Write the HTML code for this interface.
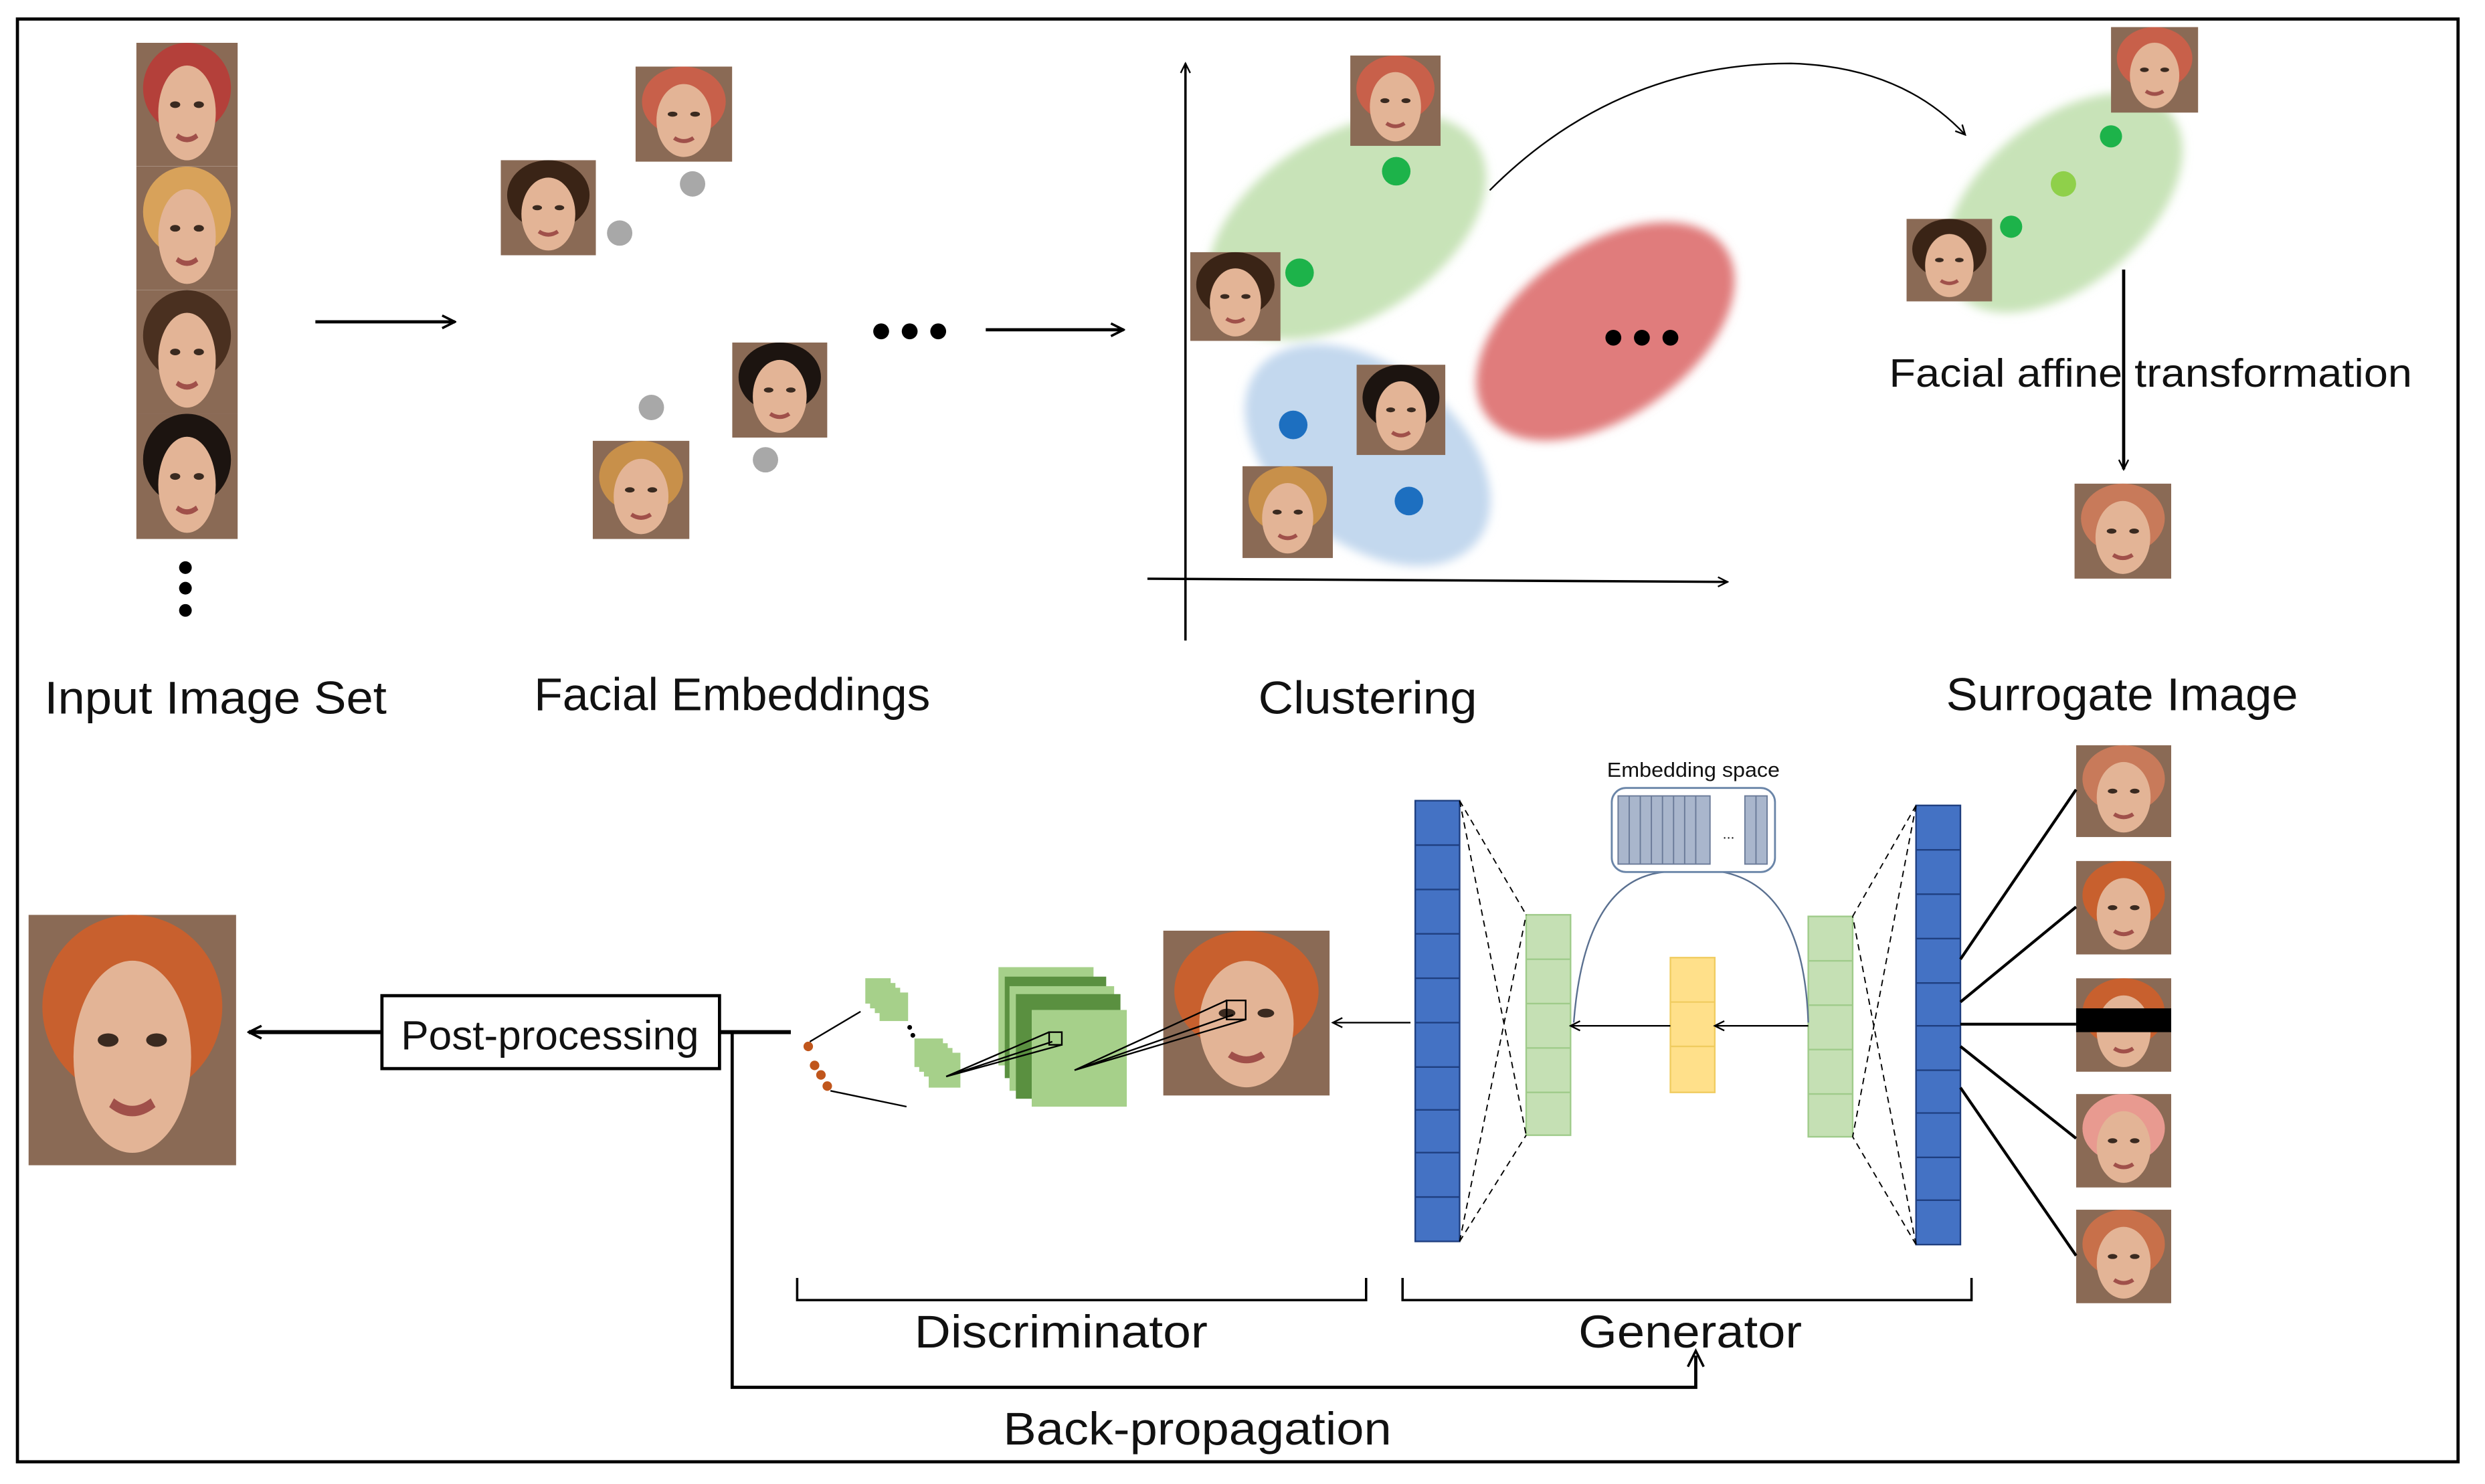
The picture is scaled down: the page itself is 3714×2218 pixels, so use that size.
<!DOCTYPE html>
<html><head><meta charset="utf-8"><style>
html,body{margin:0;padding:0;background:#fff;}
svg{display:block;}
text{font-family:"Liberation Sans",sans-serif;fill:#111;}
</style></head><body>
<svg width="3714" height="2218" viewBox="0 0 1568 936" preserveAspectRatio="none" xmlns="http://www.w3.org/2000/svg">
<defs>
<marker id="ah" markerWidth="10" markerHeight="10" refX="9" refY="5" orient="auto" markerUnits="userSpaceOnUse"><path d="M1,1 L9,5 L1,9" fill="none" stroke="#000" stroke-width="1.5"/></marker>
<marker id="ahs" markerWidth="8" markerHeight="8" refX="7" refY="4" orient="auto" markerUnits="userSpaceOnUse"><path d="M1,1 L7,4 L1,7" fill="none" stroke="#000" stroke-width="1"/></marker>
<filter id="bl"><feGaussianBlur stdDeviation="3"/></filter>
<symbol id="face" viewBox="0 0 60 60" preserveAspectRatio="none">
<rect width="60" height="60" fill="#8a6a55"/>
<ellipse cx="30" cy="22" rx="26" ry="22" fill="currentColor"/>
<ellipse cx="30" cy="34" rx="17" ry="23" fill="#e3b496"/>
<ellipse cx="23" cy="30" rx="3" ry="1.6" fill="#3a2a20"/>
<ellipse cx="37" cy="30" rx="3" ry="1.6" fill="#3a2a20"/>
<path d="M24,45 Q30,49 36,45" stroke="#a0504a" stroke-width="2.5" fill="none"/>
</symbol>
</defs>
<rect x="11" y="12" width="1540" height="910" fill="none" stroke="#000" stroke-width="2"/>

<use href="#face" x="86" y="27" width="64" height="78" color="#b4403a"/>
<use href="#face" x="86" y="105" width="64" height="78" color="#d8a25a"/>
<use href="#face" x="86" y="183" width="64" height="78" color="#4a3020"/>
<use href="#face" x="86" y="261" width="64" height="79" color="#1c1410"/>
<circle cx="117" cy="358" r="4"/><circle cx="117" cy="371" r="4"/><circle cx="117" cy="385" r="4"/>
<line x1="199" y1="203" x2="287" y2="203" stroke="#000" stroke-width="2" marker-end="url(#ah)"/>

<use href="#face" x="401" y="42" width="61" height="60" color="#c8604a"/>
<use href="#face" x="316" y="101" width="60" height="60" color="#3a2416"/>
<use href="#face" x="462" y="216" width="60" height="60" color="#1c1410"/>
<use href="#face" x="374" y="278" width="61" height="62" color="#c8904a"/>
<g fill="#a8a8a8"><circle cx="437" cy="116" r="8"/><circle cx="391" cy="147" r="8"/><circle cx="411" cy="257" r="8"/><circle cx="483" cy="290" r="8"/></g>
<circle cx="556" cy="209" r="5"/><circle cx="574" cy="209" r="5"/><circle cx="592" cy="209" r="5"/>
<line x1="622" y1="208" x2="709" y2="208" stroke="#000" stroke-width="2" marker-end="url(#ah)"/>

<g filter="url(#bl)">
<ellipse cx="850" cy="143" rx="97" ry="58" transform="rotate(-32 850 143)" fill="#c8e3b8"/>
<ellipse cx="1013" cy="209" rx="92" ry="54" transform="rotate(-35 1013 209)" fill="#e07b7b"/>
<ellipse cx="863" cy="287" rx="88" ry="56" transform="rotate(38 863 287)" fill="#c3d8ee"/>
<ellipse cx="1302" cy="128" rx="88" ry="52" transform="rotate(-40 1302 128)" fill="#c8e3b8"/>
</g>
<line x1="748" y1="404" x2="748" y2="40" stroke="#000" stroke-width="1.5" marker-end="url(#ahs)"/>
<line x1="724" y1="365" x2="1090" y2="367" stroke="#000" stroke-width="1.5" marker-end="url(#ahs)"/>
<use href="#face" x="852" y="35" width="57" height="57" color="#c8604a"/>
<use href="#face" x="751" y="159" width="57" height="56" color="#3a2416"/>
<use href="#face" x="856" y="230" width="56" height="57" color="#1c1410"/>
<use href="#face" x="784" y="294" width="57" height="58" color="#c8904a"/>
<circle cx="881" cy="108" r="9" fill="#1db34a"/><circle cx="820" cy="172" r="9" fill="#1db34a"/>
<circle cx="816" cy="268" r="9" fill="#1d6fc0"/><circle cx="889" cy="316" r="9" fill="#1d6fc0"/>
<circle cx="1018" cy="213" r="5"/><circle cx="1036" cy="213" r="5"/><circle cx="1054" cy="213" r="5"/>
<path d="M940,120 Q1020,40 1130,40 Q1200,42 1240,85" fill="none" stroke="#000" stroke-width="1" marker-end="url(#ahs)"/>

<use href="#face" x="1332" y="17" width="55" height="54" color="#c8604a"/>
<use href="#face" x="1203" y="138" width="54" height="52" color="#3a2416"/>
<circle cx="1332" cy="86" r="7" fill="#1db34a"/><circle cx="1302" cy="116" r="8" fill="#8fd04a"/><circle cx="1269" cy="143" r="7" fill="#1db34a"/>
<line x1="1340" y1="170" x2="1340" y2="296" stroke="#000" stroke-width="2" marker-end="url(#ahs)"/>
<text x="1192" y="244" font-size="25" textLength="330" lengthAdjust="spacingAndGlyphs">Facial affine transformation</text>
<use href="#face" x="1309" y="305" width="61" height="60" color="#c87a5a"/>

<text x="28" y="450" font-size="29" textLength="216" lengthAdjust="spacingAndGlyphs">Input Image Set</text>
<text x="337" y="448" font-size="29" textLength="250" lengthAdjust="spacingAndGlyphs">Facial Embeddings</text>
<text x="794" y="450" font-size="29" textLength="138" lengthAdjust="spacingAndGlyphs">Clustering</text>
<text x="1228" y="448" font-size="29" textLength="222" lengthAdjust="spacingAndGlyphs">Surrogate Image</text>

<use href="#face" x="18" y="577" width="131" height="158" color="#c8602e"/>
<line x1="240" y1="651" x2="157" y2="651" stroke="#000" stroke-width="2.5" marker-end="url(#ah)"/>
<rect x="241" y="628" width="213" height="46" fill="#fff" stroke="#000" stroke-width="2"/>
<text x="253" y="662" font-size="26" textLength="188" lengthAdjust="spacingAndGlyphs">Post-processing</text>
<line x1="454" y1="651" x2="499" y2="651" stroke="#000" stroke-width="2.5"/>
<polyline points="462,651 462,875 1070,875 1070,855" fill="none" stroke="#000" stroke-width="2"/>
<path d="M1065,862 L1070,852 L1075,862" fill="none" stroke="#000" stroke-width="1.5"/>

<g fill="#c0561c"><circle cx="510" cy="660" r="3"/><circle cx="514" cy="672" r="3"/><circle cx="518" cy="678" r="3"/><circle cx="522" cy="685" r="3"/></g>
<line x1="511" y1="657" x2="543" y2="638" stroke="#000" stroke-width="1"/>
<line x1="524" y1="688" x2="572" y2="698" stroke="#000" stroke-width="1"/>
<g fill="#a6d08a"><rect x="546" y="617" width="16" height="16"/><rect x="549" y="620" width="16" height="16"/><rect x="552" y="623" width="16" height="16"/><rect x="555" y="626" width="18" height="18"/>
<rect x="577" y="655" width="18" height="18"/><rect x="580" y="658" width="18" height="18"/><rect x="583" y="661" width="18" height="18"/><rect x="586" y="664" width="20" height="22"/></g>
<circle cx="574" cy="648" r="1.5"/><circle cx="576" cy="653" r="1.5"/>
<rect x="630" y="610" width="60" height="62" fill="#a6d08a"/>
<rect x="634" y="616" width="64" height="64" fill="#5a9040"/>
<rect x="637" y="622" width="66" height="66" fill="#a6d08a"/>
<rect x="641" y="627" width="66" height="66" fill="#5a9040"/>
<rect x="651" y="637" width="60" height="61" fill="#a6d08a"/>
<rect x="662" y="651" width="8" height="8" fill="none" stroke="#000" stroke-width="1"/>
<path d="M597,679 L662,651 M597,679 L670,659 M597,679 L664,657" stroke="#000" stroke-width="1"/>
<use href="#face" x="734" y="587" width="105" height="104" color="#c8602e"/>
<rect x="774" y="631" width="12" height="12" fill="none" stroke="#000" stroke-width="1"/>
<path d="M678,675 L774,631 M678,675 L786,643 M678,675 L778,640" stroke="#000" stroke-width="1"/>
<line x1="890" y1="645" x2="841" y2="645" stroke="#000" stroke-width="1" marker-end="url(#ahs)"/>

<g stroke="#1f3f80" stroke-width="1">
<rect x="893" y="505" width="28" height="278" fill="#4472c4"/>
<path d="M893,533 h28 M893,561 h28 M893,589 h28 M893,617 h28 M893,645 h28 M893,673 h28 M893,700 h28 M893,727 h28 M893,755 h28"/>
<rect x="1209" y="508" width="28" height="277" fill="#4472c4"/>
<path d="M1209,536 h28 M1209,564 h28 M1209,592 h28 M1209,620 h28 M1209,647 h28 M1209,675 h28 M1209,702 h28 M1209,730 h28 M1209,757 h28"/>
</g>
<g stroke="#9fcb8a" stroke-width="1" fill="#c5e0b4">
<rect x="963" y="577" width="28" height="139"/><path d="M963,605 h28 M963,633 h28 M963,661 h28 M963,689 h28"/>
<rect x="1141" y="578" width="28" height="139"/><path d="M1141,606 h28 M1141,634 h28 M1141,662 h28 M1141,690 h28"/>
</g>
<rect x="1054" y="604" width="28" height="85" fill="#ffe08a" stroke="#f0cc60"/>
<path d="M1054,632 h28 M1054,660 h28" stroke="#f0cc60"/>
<g stroke="#000" stroke-width="0.8" stroke-dasharray="4,3" fill="none">
<path d="M921,505 L963,577 M921,783 L963,716 M921,505 L963,716 M921,783 L963,577"/>
<path d="M1209,508 L1169,578 M1209,785 L1169,717 M1209,508 L1169,717 M1209,785 L1169,578"/>
</g>
<path d="M993,645 Q1000,555 1050,550 M1087,550 Q1138,560 1141,645" fill="none" stroke="#5a7090" stroke-width="1"/>
<rect x="1017" y="497" width="103" height="53" rx="9" fill="#fff" stroke="#6a85a8" stroke-width="1.2"/>
<rect x="1021" y="502" width="58" height="43" fill="#a9b6cc" stroke="#6a7a98" stroke-width="0.8"/>
<path d="M1028,502 v43 M1035,502 v43 M1042,502 v43 M1049,502 v43 M1056,502 v43 M1063,502 v43 M1070,502 v43" stroke="#6a7a98" stroke-width="0.8"/>
<rect x="1101" y="502" width="14" height="43" fill="#a9b6cc" stroke="#6a7a98" stroke-width="0.8"/>
<path d="M1108,502 v43" stroke="#6a7a98" stroke-width="0.8"/>
<text x="1087" y="529" font-size="9">...</text>
<text x="1014" y="490" font-size="13" textLength="109" lengthAdjust="spacingAndGlyphs">Embedding space</text>
<line x1="1141" y1="647" x2="1082" y2="647" stroke="#000" stroke-width="1" marker-end="url(#ahs)"/>
<line x1="1054" y1="647" x2="991" y2="647" stroke="#000" stroke-width="1" marker-end="url(#ahs)"/>

<use href="#face" x="1310" y="470" width="60" height="58" color="#c87a5a"/>
<use href="#face" x="1310" y="543" width="60" height="59" color="#c8602e"/>
<use href="#face" x="1310" y="617" width="60" height="59" color="#c8602e"/>
<rect x="1310" y="636" width="60" height="15" fill="#000"/>
<use href="#face" x="1310" y="690" width="60" height="59" color="#e89a90"/>
<use href="#face" x="1310" y="763" width="60" height="59" color="#c8704a"/>
<g stroke="#000" stroke-width="1.8">
<line x1="1237" y1="605" x2="1310" y2="498"/>
<line x1="1237" y1="632" x2="1310" y2="572"/>
<line x1="1237" y1="646" x2="1310" y2="646"/>
<line x1="1237" y1="660" x2="1310" y2="718"/>
<line x1="1237" y1="686" x2="1310" y2="792"/>
</g>

<polyline points="503,806 503,820 862,820 862,806" fill="none" stroke="#000" stroke-width="1.5"/>
<polyline points="885,806 885,820 1244,820 1244,806" fill="none" stroke="#000" stroke-width="1.5"/>
<text x="577" y="850" font-size="29" textLength="185" lengthAdjust="spacingAndGlyphs">Discriminator</text>
<text x="996" y="850" font-size="29" textLength="141" lengthAdjust="spacingAndGlyphs">Generator</text>
<text x="633" y="911" font-size="29" textLength="245" lengthAdjust="spacingAndGlyphs">Back-propagation</text>
</svg>
</body></html>
